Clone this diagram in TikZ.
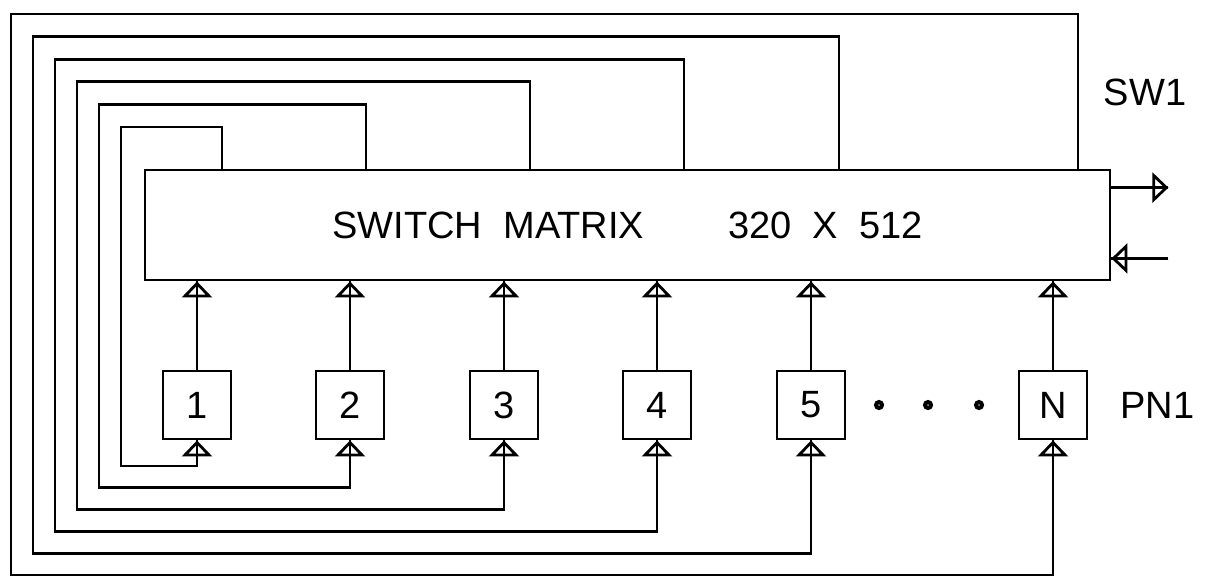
\documentclass[tikz,border=0pt]{standalone}
\usepackage{fontspec}
\setmainfont{Liberation Sans}
\usetikzlibrary{arrows.meta,positioning}

\begin{document}
\begin{tikzpicture}[x=0.5pt, y=-0.5pt, line width=1.4pt,
  font=\fontsize{19}{22}\selectfont,
  flow/.style={postaction={draw, -{Triangle[open, length=8pt, width=15pt]}}},
  pe/.style={draw, minimum size=34pt, inner sep=0pt},
  swbox/.style={draw, minimum width=482.5pt, minimum height=55pt, align=center}]
  \useasboundingbox (0,0) rectangle (1218,586);
  \node[swbox] (sw) at (627.5,225) {SWITCH~~MATRIX\hspace{42pt}320~~X~~512};
  \foreach \i/\x in {1/197, 2/350, 3/504, 4/657, 5/811, N/1053}
    \node[pe] (p\i) at (\x,405) {\i};
  % processor outputs into the matrix
  \foreach \i in {1,2,3,4,5,N}
    \draw[flow] (p\i.north) -- (p\i.north |- sw.south);
  % matrix outputs back to the processors
  \foreach \i/\dx/\k in {1/25/0, 2/16/1, 3/26/2, 4/27/3, 5/28/4, N/25/5}
    \draw[flow] (sw.north -| p\i) ++(\dx,0) |- ({121-22*\k},{127-22.6*\k})
      -- ({121-22*\k},{466+21.8*\k}) -| (p\i.south);
  \draw[flow] ([yshift=-9.5pt]sw.north east) -- ++(57,0) coordinate (swout);
  \path ([yshift=11.5pt]sw.south east) ++(57,0) coordinate (swin);
  \draw[flow] (swin) -- (swin -| sw.east);
  \foreach \x in {879,928,979}
    \draw[line width=2pt] (\x,405) circle (1.5pt);
  \node (sw1) at (1145,92) {SW1};
  \node[right=12pt of pN] (pn1) {PN1};
\end{tikzpicture}
\end{document}
